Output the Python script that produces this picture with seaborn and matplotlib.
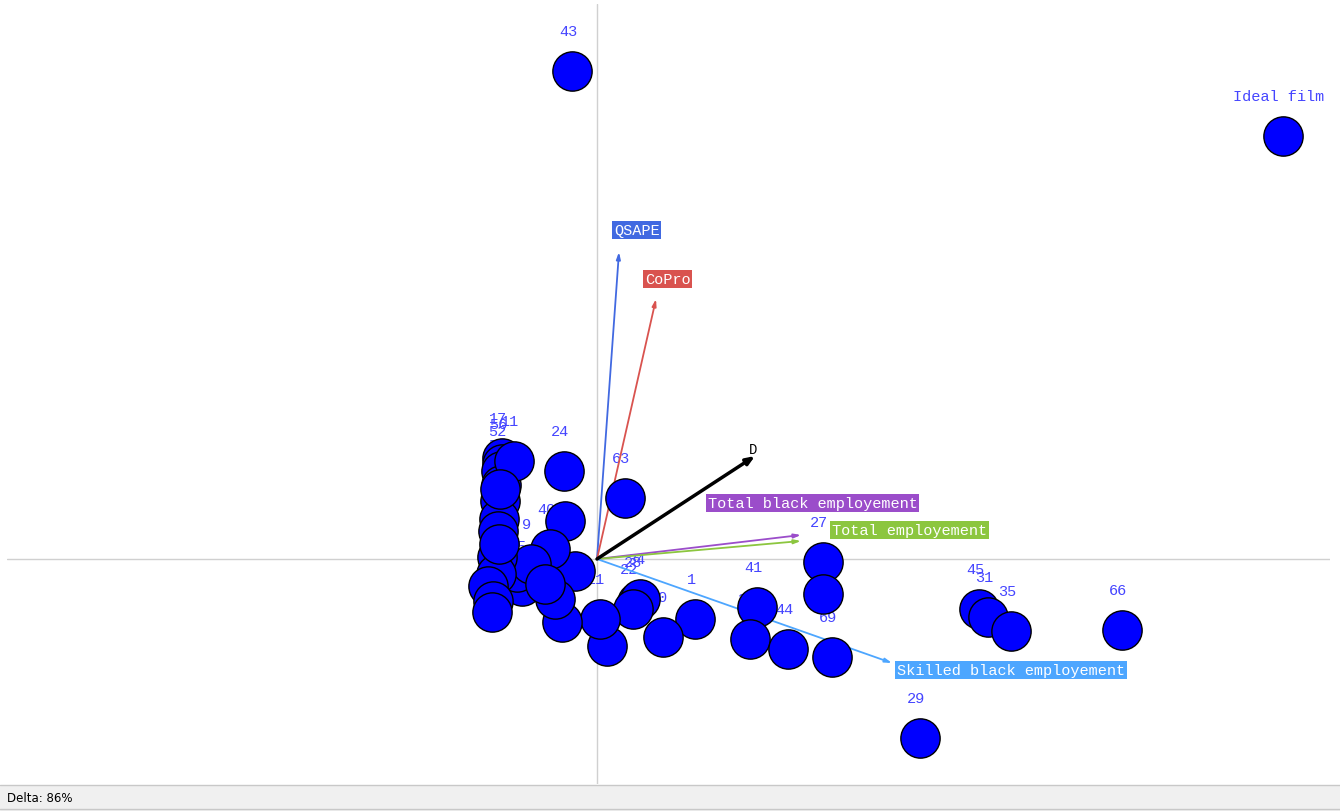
import matplotlib
matplotlib.use("Agg")
import matplotlib.pyplot as plt
from matplotlib.patches import Rectangle
import pandas as pd
import seaborn as sns

# alternatives (GAIA plane coordinates)
labels = ["43", "Ideal film", "24", "63", "27", "12", "41", "30", "44", "69",
          "1", "20", "28", "34", "22", "7", "21", "4", "46", "40",
          "13", "2", "15", "8", "9", "17", "56", "52", "50", "11",
          "47", "6", "14", "16", "19", "3", "25", "26", "32", "45",
          "31", "35", "66", "29", "33", "36"]
xs = [-0.25, 6.86, -0.33, 0.28, 2.26, 2.26, 1.60, 1.53, 1.91, 2.35,
      0.98, 0.66, 0.40, 0.43, 0.36, 0.10, 0.03, -0.22, -0.32, -0.47,
      -0.35, -0.42, -0.75, -0.80, -0.66, -0.95, -0.95, -0.96, -0.96, -0.83,
      -0.97, -0.98, -0.99, -1.00, -1.01, -1.09, -1.04, -1.05, -0.52, 3.82,
      3.91, 4.14, 5.25, 3.23, -0.97, -0.98]
ys = [4.88, 4.23, 0.88, 0.61, -0.03, -0.35, -0.48, -0.80, -0.90, -0.98,
      -0.60, -0.78, -0.43, -0.40, -0.50, -0.87, -0.60, -0.12, 0.38, 0.10,
      -0.63, -0.40, -0.27, -0.13, -0.05, 1.01, 0.95, 0.88, 0.74, 0.98,
      0.58, 0.40, 0.28, 0.02, -0.15, -0.27, -0.42, -0.53, -0.25, -0.50,
      -0.58, -0.72, -0.71, -1.79, 0.70, 0.15]

# criteria axes
crit_names = ["QSAPE", "CoPro", "Total black employement", "Total employement",
              "Skilled black employement"]
crit_x = [0.22, 0.59, 2.04, 2.04, 2.95]
crit_y = [3.07, 2.60, 0.24, 0.18, -1.04]
crit_colors = ["#4169e1", "#d9534f", "#9b4dca", "#8cc63f", "#4da6ff"]
crit_offsets = [(-5, 22), (-11, 20), (-93, 32), (31, 11), (5, -7)]

# decision axis
d_x, d_y = 1.58, 1.03

df = pd.DataFrame({"label": labels, "x": xs, "y": ys})

sns.set_style("white")
fig = plt.figure(figsize=(13.4, 8.12), dpi=100)
ax = fig.add_axes([7 / 1340, 27 / 812, 1323 / 1340, 780 / 812])
ax.set_xlim(-5.90, 7.33)
ax.set_ylim(-2.25, 5.55)
ax.axhline(0, color="#d0d0d0", lw=1, zorder=0)
ax.axvline(0, color="#d0d0d0", lw=1, zorder=0)
for s in ax.spines.values():
    s.set_visible(False)
ax.set_xticks([])
ax.set_yticks([])

mono = "Liberation Mono"

# point labels sit below the circles
for _, r in df.iterrows():
    ax.annotate(r["label"], (r["x"], r["y"]), xytext=(-4, 40),
                textcoords="offset pixels", ha="center", va="center",
                fontsize=11, family=mono, color="#4545ff", zorder=1)

# criteria vectors
for name, cx, cy, col, off in zip(crit_names, crit_x, crit_y, crit_colors, crit_offsets):
    ax.annotate("", xy=(cx, cy), xytext=(0, 0),
                arrowprops=dict(arrowstyle="-|>,head_length=0.4,head_width=0.12",
                                color=col, lw=1.3, shrinkA=0, shrinkB=0), zorder=2)
    ax.annotate(name, (cx, cy), xytext=off, textcoords="offset pixels",
                ha="left", va="center", fontsize=11, family=mono, color="white",
                bbox=dict(boxstyle="square,pad=0.1", fc=col, ec="none"), zorder=4)

ax.annotate("", xy=(d_x, d_y), xytext=(0, 0),
            arrowprops=dict(arrowstyle="-|>,head_length=0.5,head_width=0.2",
                            color="black", lw=2.5, shrinkA=0, shrinkB=0), zorder=2)
ax.annotate("D", (d_x, d_y), xytext=(-2, 7), textcoords="offset pixels",
            ha="center", va="center", fontsize=10, family=mono, color="black", zorder=4)

sns.scatterplot(data=df, x="x", y="y", s=800, color="#0000ff",
                edgecolor="black", linewidth=1, ax=ax, zorder=3, legend=False)
ax.set_xlabel("")
ax.set_ylabel("")

# status bar
fig.patches.append(Rectangle((0, 0), 1, 26 / 812, transform=fig.transFigure,
                             fc="#f0f0f0", ec="none", zorder=0))
fig.add_artist(plt.Line2D([0, 1], [26 / 812, 26 / 812], transform=fig.transFigure,
                          color="#c8c8c8", lw=1))
fig.add_artist(plt.Line2D([0, 1], [2 / 812, 2 / 812], transform=fig.transFigure,
                          color="#c8c8c8", lw=1))
fig.text(7 / 1340, 13 / 812, "Delta: 86%", ha="left", va="center",
         fontsize=8.5, family="DejaVu Sans", color="black")

fig.savefig("out.png", dpi=100)
